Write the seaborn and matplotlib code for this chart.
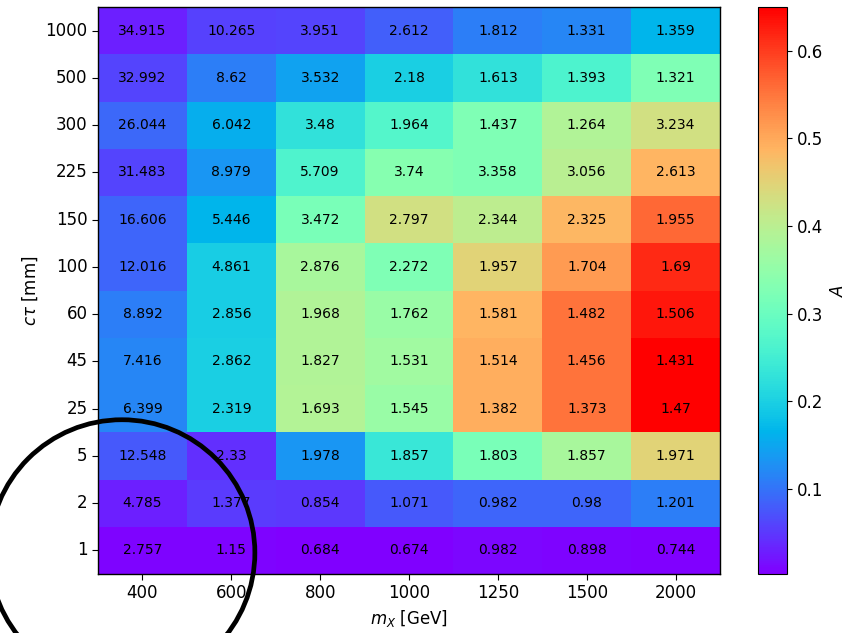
import numpy as np
import pandas as pd
import matplotlib
matplotlib.use('Agg')
import matplotlib.pyplot as plt
import seaborn as sns
from matplotlib.patches import Ellipse

# masses (columns) and lifetimes (rows, top to bottom)
masses = ['400', '600', '800', '1000', '1250', '1500', '2000']
ctau = ['1000', '500', '300', '225', '150', '100', '60', '45', '25', '5', '2', '1']

# acceptance A (colour)
acc = [
    [0.029, 0.057, 0.061, 0.083, 0.111, 0.119, 0.165],
    [0.061, 0.110, 0.145, 0.200, 0.226, 0.262, 0.326],
    [0.090, 0.158, 0.226, 0.272, 0.326, 0.388, 0.430],
    [0.061, 0.132, 0.265, 0.336, 0.326, 0.398, 0.487],
    [0.087, 0.165, 0.317, 0.430, 0.404, 0.485, 0.562],
    [0.088, 0.197, 0.378, 0.326, 0.449, 0.514, 0.616],
    [0.110, 0.197, 0.388, 0.359, 0.487, 0.553, 0.631],
    [0.117, 0.200, 0.388, 0.369, 0.495, 0.553, 0.650],
    [0.117, 0.200, 0.392, 0.359, 0.495, 0.553, 0.648],
    [0.077, 0.042, 0.132, 0.236, 0.317, 0.378, 0.449],
    [0.030, 0.052, 0.050, 0.077, 0.087, 0.087, 0.110],
    [0.008, 0.006, 0.004, 0.005, 0.009, 0.007, 0.003],
]

# numbers printed in the cells
labels = [
    ['34.915', '10.265', '3.951', '2.612', '1.812', '1.331', '1.359'],
    ['32.992', '8.62', '3.532', '2.18', '1.613', '1.393', '1.321'],
    ['26.044', '6.042', '3.48', '1.964', '1.437', '1.264', '3.234'],
    ['31.483', '8.979', '5.709', '3.74', '3.358', '3.056', '2.613'],
    ['16.606', '5.446', '3.472', '2.797', '2.344', '2.325', '1.955'],
    ['12.016', '4.861', '2.876', '2.272', '1.957', '1.704', '1.69'],
    ['8.892', '2.856', '1.968', '1.762', '1.581', '1.482', '1.506'],
    ['7.416', '2.862', '1.827', '1.531', '1.514', '1.456', '1.431'],
    ['6.399', '2.319', '1.693', '1.545', '1.382', '1.373', '1.47'],
    ['12.548', '2.33', '1.978', '1.857', '1.803', '1.857', '1.971'],
    ['4.785', '1.377', '0.854', '1.071', '0.982', '0.98', '1.201'],
    ['2.757', '1.15', '0.684', '0.674', '0.982', '0.898', '0.744'],
]

data = pd.DataFrame(acc, index=ctau, columns=masses)

fig = plt.figure(figsize=(8.48, 6.33), dpi=100)
ax = fig.add_axes([0.1156, 0.0932, 0.7335, 0.8957])
cax = fig.add_axes([0.894, 0.0932, 0.034, 0.8957])

sns.heatmap(data, ax=ax, cbar_ax=cax, cmap='rainbow', vmin=0.003, vmax=0.65,
            annot=np.array(labels), fmt='', annot_kws={'fontsize': 10, 'color': 'black'},
            cbar_kws={'label': '$A$'})

# put back the frame that seaborn strips
for s in ax.spines.values():
    s.set_visible(True)
    s.set_linewidth(1.0)
cbar = ax.collections[0].colorbar
cbar.outline.set_linewidth(0.8)
cbar.ax.tick_params(labelsize=12)
cbar.ax.yaxis.label.set_size(12)

ax.tick_params(labelsize=12, length=4)
plt.setp(ax.get_yticklabels(), rotation=0)
plt.setp(ax.get_xticklabels(), rotation=0)
ax.set_xlabel('$m_X$ [GeV]', fontsize=12)
ax.set_ylabel(r'$c\tau$ [mm]', fontsize=12)

# ring around the low-mass, short-lifetime corner
ring = Ellipse((0.27, 11.55), 2.99, 5.63, fill=False, edgecolor='black', lw=3.4, clip_on=False)
ax.add_patch(ring)

fig.savefig('out.png', dpi=100)
